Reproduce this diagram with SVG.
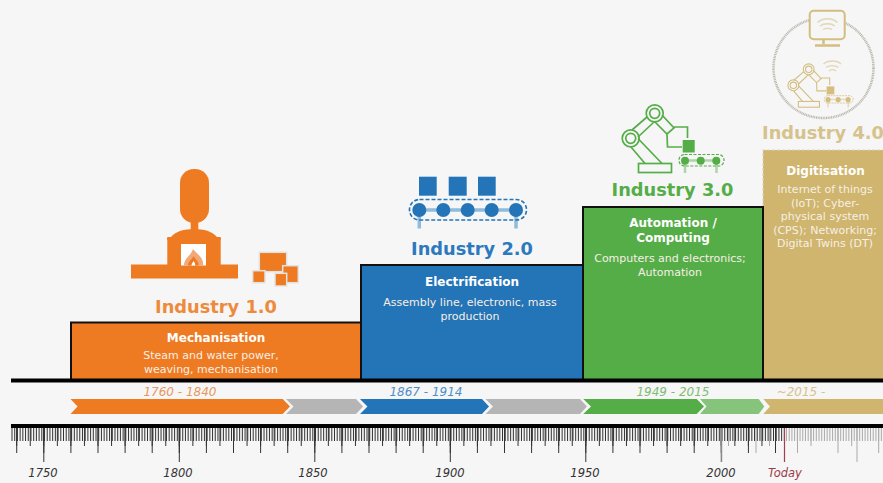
<svg xmlns="http://www.w3.org/2000/svg" xmlns:xlink="http://www.w3.org/1999/xlink" width="883" height="483" viewBox="0 0 883 483">
<style>
text{font-family:"DejaVu Sans","Liberation Sans",sans-serif;text-anchor:middle}
.h{font-weight:700;font-size:17.8px}
.t{font-weight:700;font-size:12px;fill:#fff}
.b{font-size:11px;fill:#f7efe6}
.d{font-style:italic;font-size:12px}
.y{font-style:italic;font-size:11.5px;fill:#333}
.box{stroke:#111;stroke-width:2}
.tick{fill:none;stroke:#333}
.arm{fill:none;stroke:currentColor;stroke-width:1.7}
</style>
<defs>
<g id="robot">
<g class="arm">
<circle cx="654.7" cy="113.3" r="8.5"/><circle cx="654.7" cy="113.3" r="5"/>
<circle cx="630.7" cy="138.3" r="8.5"/><circle cx="630.7" cy="138.3" r="5"/>
<rect x="638.5" y="163.5" width="33" height="9"/>
<path d="M631 147L645 163.5M638 138.5L662 163.5M632 130L647 117M638 137L654 122M662 115L674 128L667 134L655 122M674 127H687.500V138M667 134L667.500 147H682"/>
</g>
<rect x="682.700" y="140" width="12" height="12.500" fill="currentColor"/>
<path d="M685 160.500V173M716.500 160.500V173M685 160.500H716.500" fill="none" stroke="currentColor" stroke-opacity=".45" stroke-width="2.500"/>
<circle cx="685" cy="160.700" r="4" fill="currentColor"/><circle cx="700.700" cy="160.700" r="4" fill="currentColor"/><circle cx="716.300" cy="160.700" r="4" fill="currentColor"/>
<rect x="679" y="154.500" width="45" height="11.500" rx="5.500" fill="none" stroke="currentColor" stroke-width="1.200" stroke-dasharray="3 1.500"/>
</g>
</defs>
<rect width="883" height="483" fill="#f6f6f6"/>

<g id="industry1">
<rect class="box" x="71" y="322.500" width="290" height="58" fill="#ee7b22"/>
<g fill="#ee7b22">
<rect x="180" y="169" width="29" height="54" rx="14"/>
<rect x="190.700" y="220" width="7.600" height="11"/>
<path d="M167.300 240V237H171C176 231 184 229.300 194 229.300S212 231 217 237H220.700V240Z"/>
<rect x="167.300" y="238" width="53.400" height="30"/>
<rect x="131" y="264.500" width="107" height="14"/>
</g>
<rect x="181" y="244" width="25" height="21.500" fill="#fff"/>
<path d="M184 265.500C184 258 191 256 193 249C198 255 204 258 203 265.500Z" fill="#f3a878"/>
<path d="M188 265.500C188 261 192 260 193.500 256C196 260 199 262 198.500 265.500Z" fill="#ee7b22"/>
<path d="M191.500 265.500C191.500 263 193 262.500 193.500 261C195 263 195.500 264 195 265.500Z" fill="#fff"/>
<g fill="#ee7b22" stroke="#e3e3e3" stroke-width="1.500">
<rect x="259.300" y="252.300" width="27.400" height="19.400"/>
<rect x="282.700" y="265.700" width="15.600" height="17"/>
<rect x="252.700" y="270.700" width="12.300" height="12"/>
<rect x="275" y="273.300" width="11.700" height="12.700"/>
</g>
<text class="h" x="216" y="313" fill="#ee8a3c">Industry 1.0</text>
<text class="t" x="216" y="342">Mechanisation</text>
<text class="b" x="211" y="358.500">Steam and water power,</text>
<text class="b" x="211" y="372.500">weaving, mechanisation</text>
</g>

<g id="industry2">
<rect class="box" x="361" y="265" width="222" height="115.500" fill="#2474b8"/>
<g fill="#2474b8">
<rect x="419" y="176.700" width="17.700" height="19"/>
<rect x="448.700" y="176.700" width="18" height="19"/>
<rect x="478" y="176.700" width="17.700" height="19"/>
</g>
<path d="M419.300 210H516M419.300 210V228.500M516 210V228.500" fill="none" stroke="#8fbbdd" stroke-width="3.500"/>
<rect x="409.500" y="199.500" width="117" height="20.500" rx="10" fill="none" stroke="#2474b8" stroke-width="1.600" stroke-dasharray="4 2"/>
<g fill="#2474b8">
<circle cx="419.300" cy="210" r="7"/><circle cx="443.300" cy="210" r="7"/><circle cx="467.700" cy="210" r="7"/><circle cx="491.700" cy="210" r="7"/><circle cx="516" cy="210" r="7"/>
</g>
<text class="h" x="472" y="255" fill="#2c7abd">Industry 2.0</text>
<text class="t" x="472" y="286">Electrification</text>
<text class="b" x="470" y="305.500">Assembly line, electronic, mass</text>
<text class="b" x="470" y="319.500">production</text>
</g>

<g id="industry3">
<rect class="box" x="583" y="207" width="180" height="173.500" fill="#55ad48"/>
<use xlink:href="#robot" href="#robot" style="color:#55ad48"/>
<text class="h" x="672.500" y="196" fill="#55ad48">Industry 3.0</text>
<text class="t" x="673" y="227">Automation /</text>
<text class="t" x="673" y="242">Computing</text>
<text class="b" x="670" y="261.500">Computers and electronics;</text>
<text class="b" x="670" y="275.500">Automation</text>
</g>

<g id="industry4">
<rect x="763" y="150" width="120" height="230" fill="#cfb56d"/>
<path d="M763 206V150H883" fill="none" stroke="#d8d4c6" stroke-width="1.200" stroke-dasharray="3 2"/>
<path d="M763 380V206" fill="none" stroke="#111" stroke-width="2"/>
<circle cx="823.500" cy="68" r="50" fill="none" stroke="#b9b6aa" stroke-width="2.500" stroke-dasharray="1 .7"/>
<rect x="809.700" y="10.700" width="35" height="28.600" rx="4" fill="#f6f6f6" stroke="#d4bd7f" stroke-width="2"/>
<path d="M823.500 40V44M815 45.500H840" fill="none" stroke="#d4bd7f" stroke-width="2.500"/>
<path d="M817.500 22.500C823 17.500 832 17.500 837.500 22.500M820 26C824 23 831 23 835 26M823 29.500C825 28 830 28 832 29.500" fill="none" stroke="#e0d6b8" stroke-width="1.400"/>
<path d="M823.500 64C828 60 837 60 841 64M826 67.500C829 65 835 65 838.500 67.500M829 71C831 69.500 834 69.500 836 71" fill="none" stroke="#e0d6b8" stroke-width="1.300"/>
<g transform="translate(389.700 -3.200) scale(.64)" style="color:#d4bd7f"><use xlink:href="#robot" href="#robot"/></g>
<text class="h" x="823" y="139" fill="#d6c28c">Industry 4.0</text>
<text class="t" x="825.500" y="174.500">Digitisation</text>
<g>
<text class="b" x="825" y="193">Internet of things</text>
<text class="b" x="825" y="206.500">(IoT); Cyber-</text>
<text class="b" x="825" y="220">physical system</text>
<text class="b" x="825" y="233.500">(CPS); Networking;</text>
<text class="b" x="825" y="247">Digital Twins (DT)</text>
</g>
</g>

<g id="connectors">
<rect x="11" y="378.500" width="872" height="4" fill="#000"/>
<path d="M70.500 399H282.700L290 406.500L282.700 414H70.500L77.500 406.500Z" fill="#ee7b22"/>
<path d="M286 399H356L363 406.500L356 414H286L293.500 406.500Z" fill="#b5b5b5"/>
<path d="M360 399H482L489 406.500L482 414H360L367.500 406.500Z" fill="#2474b8"/>
<path d="M485.500 399H580L587 406.500L580 414H485.500L493 406.500Z" fill="#b5b5b5"/>
<path d="M583.300 399H696.700L704 406.500L696.700 414H583.300L591 406.500Z" fill="#55ad48"/>
<path d="M700 399H758.700L764.300 406.500L758.700 414H700L706.500 406.500Z" fill="#86c47c"/>
<path d="M763.300 399H883V414H763.300L770 406.500Z" fill="#cfb56d"/>
<text class="d" x="180" y="396" fill="#e5985f">1760 - 1840</text>
<text class="d" x="426" y="396" fill="#4f8fc7">1867 - 1914</text>
<text class="d" x="673" y="396" fill="#7fbd75">1949 - 2015</text>
<text class="d" x="801" y="396" fill="#d6c28c">~2015 -</text>

<rect x="11" y="424" width="872" height="4" fill="#000"/>
<g class="tick">
<line x1="11.500" x2="784.500" y1="434.500" y2="434.500" stroke-width="13" stroke-dasharray="1 1.710"/>
<line x1="786" x2="883" y1="434.500" y2="434.500" stroke-width="13" stroke-dasharray="1 1.710" stroke="#aaa"/>
<line x1="16.200" x2="784.500" y1="437" y2="437" stroke-width="18" stroke-dasharray="1 12.550"/>
<line x1="16.200" x2="784.500" y1="440.500" y2="440.500" stroke-width="25" stroke-dasharray="1 26.100"/>
<line x1="43.300" x2="721" y1="445" y2="445" stroke-width="34" stroke-dasharray="1 134.500"/>
<path d="M728.500 428V446M756 428V453M769.500 428V446M797.500 428V453M811 428V446M838 428V453M851.700 428V446M878.700 428V453M857 428V462" stroke="#aaa" fill="none"/>
<path d="M721.600 428V462" stroke="#888" fill="none" stroke-width="1.200"/>
<path d="M784.500 428V462" stroke="#a3404f" fill="none" stroke-width="1.200"/>
</g>
<text class="y" x="43" y="477">1750</text>
<text class="y" x="178" y="477">1800</text>
<text class="y" x="313" y="477">1850</text>
<text class="y" x="450" y="477">1900</text>
<text class="y" x="585" y="477">1950</text>
<text class="y" x="721" y="477">2000</text>
<text class="y" x="785" y="477" style="fill:#9c3a4a">Today</text>
</g>
</svg>
